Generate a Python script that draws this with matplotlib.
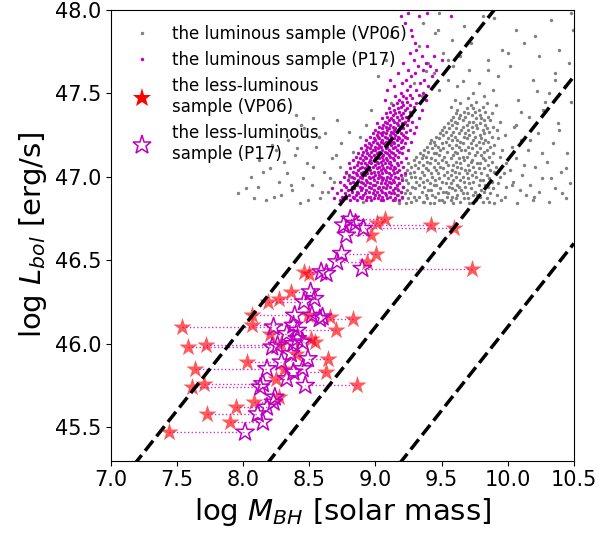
import matplotlib
matplotlib.use('Agg')
import matplotlib.pyplot as plt
from matplotlib.lines import Line2D

# luminous sample (VP06): rows of (log Lbol, [log MBH ...])
gray_rows = [
    (46.84, [8.43, 9.18, 9.23, 9.41, 9.44, 9.59, 9.71, 9.73, 9.90, 10.07]),
    (46.85, [8.91, 9.27, 9.36, 9.37, 9.52, 9.64, 9.81, 9.86, 10.31]),
    (46.86, [8.17, 9.15, 9.31, 9.48, 9.50, 9.57, 9.76, 9.95, 10.19]),
    (46.87, [8.58, 9.20, 9.25, 9.39, 9.61, 9.67, 9.70, 9.84, 10.44]),
    (46.88, [8.76, 9.29, 9.33, 9.45, 9.54, 9.58, 9.79, 9.98]),
    (46.89, [8.29, 9.17, 9.38, 9.43, 9.62, 9.74, 9.77, 9.92, 10.14]),
    (46.90, [7.96, 9.22, 9.26, 9.47, 9.55, 9.66, 9.69, 9.87]),
    (46.91, [8.64, 9.19, 9.35, 9.51, 9.53, 9.75, 9.82, 10.24]),
    (46.92, [8.37, 9.24, 9.40, 9.42, 9.60, 9.65, 9.80, 10.09]),
    (46.93, [8.84, 9.16, 9.30, 9.49, 9.58, 9.72, 9.89, 10.36]),
    (46.94, [8.11, 9.21, 9.28, 9.37, 9.56, 9.63, 9.68, 9.85, 9.99]),
    (46.95, [8.52, 9.33, 9.44, 9.46, 9.62, 9.78, 9.83, 10.17]),
    (46.96, [9.18, 9.25, 9.41, 9.53, 9.57, 9.71, 9.93, 10.47]),
    (46.97, [8.27, 8.69, 9.31, 9.36, 9.50, 9.67, 9.74, 9.88, 10.04]),
    (46.98, [9.23, 9.39, 9.45, 9.59, 9.64, 9.79, 9.81]),
    (46.99, [8.45, 9.20, 9.34, 9.48, 9.55, 9.70, 9.86, 10.26]),
    (47.00, [8.06, 8.80, 9.27, 9.30, 9.43, 9.61, 9.66, 9.76, 9.94]),
    (47.01, [9.22, 9.37, 9.52, 9.57, 9.73, 9.84, 10.11]),
    (47.02, [8.33, 9.26, 9.42, 9.47, 9.63, 9.69, 9.80, 9.97]),
    (47.03, [8.61, 9.29, 9.35, 9.54, 9.60, 9.75, 9.90, 10.40]),
    (47.04, [9.24, 9.40, 9.46, 9.58, 9.68, 9.71, 9.87, 10.02]),
    (47.05, [8.20, 9.32, 9.38, 9.51, 9.65, 9.78, 9.82]),
    (47.06, [8.73, 9.27, 9.44, 9.49, 9.62, 9.74, 9.91, 10.21]),
    (47.07, [9.30, 9.36, 9.55, 9.59, 9.70, 9.85]),
    (47.08, [8.48, 9.25, 9.41, 9.47, 9.64, 9.77, 9.79, 9.99]),
    (47.09, [9.33, 9.39, 9.53, 9.61, 9.72, 9.88, 10.30]),
    (47.10, [8.12, 9.29, 9.45, 9.50, 9.67, 9.73, 9.83]),
    (47.11, [8.67, 9.35, 9.42, 9.57, 9.63, 9.81, 10.06]),
    (47.12, [9.31, 9.38, 9.52, 9.66, 9.69, 9.86, 9.94]),
    (47.13, [8.39, 9.36, 9.48, 9.59, 9.75, 9.80]),
    (47.14, [9.34, 9.44, 9.46, 9.62, 9.71, 9.89, 10.45]),
    (47.15, [8.83, 9.40, 9.54, 9.60, 9.77, 9.82]),
    (47.16, [8.25, 9.37, 9.49, 9.65, 9.68, 9.84, 9.96, 10.15]),
    (47.17, [9.43, 9.51, 9.58, 9.73, 9.79]),
    (47.18, [8.55, 9.39, 9.47, 9.63, 9.70, 9.87, 10.03]),
    (47.19, [9.45, 9.56, 9.61, 9.76, 9.90]),
    (47.20, [8.74, 9.41, 9.50, 9.66, 9.72, 9.81, 10.34]),
    (47.21, [9.44, 9.53, 9.64, 9.78, 9.85]),
    (47.22, [8.34, 9.42, 9.58, 9.62, 9.74, 9.83, 10.10]),
    (47.23, [9.48, 9.55, 9.69, 9.80, 9.93]),
    (47.24, [8.88, 9.46, 9.60, 9.67, 9.75, 9.88]),
    (47.25, [9.51, 9.57, 9.71, 9.79, 9.98]),
    (47.26, [8.62, 9.49, 9.63, 9.68, 9.82, 10.23]),
    (47.27, [9.53, 9.59, 9.74, 9.86]),
    (47.28, [9.50, 9.65, 9.70, 9.81, 9.92]),
    (47.29, [8.46, 9.56, 9.61, 9.77, 9.84]),
    (47.30, [9.52, 9.66, 9.73, 9.89, 10.05]),
    (47.31, [8.93, 9.58, 9.69, 9.76, 9.83]),
    (47.32, [9.55, 9.62, 9.79, 10.38]),
    (47.33, [9.60, 9.71, 9.74, 9.94]),
    (47.34, [8.71, 9.57, 9.66, 9.82, 9.87]),
    (47.35, [9.63, 9.76, 9.80]),
    (47.36, [9.59, 9.68, 9.85, 10.16]),
    (47.37, [8.40, 9.64, 9.73, 9.79]),
    (47.38, [9.61, 9.70, 9.88]),
    (47.39, [9.67, 9.75, 9.83]),
    (47.40, [8.97, 9.62, 9.78, 10.27]),
    (47.41, [9.69, 9.74]),
    (47.42, [9.57, 9.81]),
    (47.43, [9.72, 9.91]),
    (47.44, [9.12, 9.64, 9.84]),
    (47.45, [9.76, 10.48]),
    (47.46, [9.60, 10.08]),
    (47.47, [9.70]),
    (47.48, [9.35, 9.82]),
    (47.50, [9.74, 10.31]),
    (47.52, [9.48, 9.89]),
    (47.54, [9.62, 10.43]),
    (47.56, [9.29, 9.78]),
    (47.58, [9.55, 10.19]),
    (47.60, [9.02, 9.93]),
    (47.62, [9.44, 10.36]),
    (47.64, [9.71]),
    (47.66, [9.59, 10.02]),
    (47.68, [9.40, 10.46]),
    (47.70, [9.08, 9.85]),
    (47.72, [9.64, 10.24]),
    (47.74, [9.51]),
    (47.76, [9.96, 10.39]),
    (47.78, [9.33]),
    (47.80, [9.72, 10.12]),
    (47.82, [9.58]),
    (47.84, [9.12, 10.21]),
    (47.86, [9.45]),
    (47.88, [10.06, 10.49]),
    (47.90, [9.67]),
    (47.92, [9.36]),
    (47.94, [10.33]),
    (47.96, [9.81]),
    (47.98, [9.48, 10.48]),
]

# extra scattered VP06 points around the main cloud
gray_extra_mbh = [8.02, 8.15, 8.23, 8.36, 8.41, 8.49, 8.53, 8.57, 8.66, 8.70,
                  8.78, 8.31, 8.08, 8.44, 8.60, 8.22, 8.80, 8.53,
                  10.03, 10.12, 10.20, 10.26, 10.33, 10.39, 10.44, 10.10, 10.28,
                  10.17, 10.36, 10.41, 10.06, 10.22,
                  9.38, 9.55, 9.66, 9.85, 9.47, 10.00, 9.90]
gray_extra_lbol = [46.93, 47.03, 46.88, 46.95, 47.17, 46.86, 47.06, 47.24, 46.99, 47.13,
                   47.02, 47.09, 46.87, 47.31, 46.91, 47.19, 47.27, 47.35,
                   46.95, 47.07, 46.88, 47.14, 46.99, 47.28, 47.05, 47.39, 47.45,
                   47.22, 47.58, 46.90, 47.31, 47.51,
                   47.63, 47.70, 47.57, 47.64, 47.88, 47.74, 47.95]

# luminous sample (P17)
magenta_rows = [
    (46.86, [8.73, 8.81, 8.86, 8.93, 8.97, 9.04, 9.06, 9.13, 9.18]),
    (46.87, [8.69, 8.78, 8.84, 8.90, 8.99, 9.02, 9.09, 9.15]),
    (46.88, [8.75, 8.83, 8.88, 8.94, 8.96, 9.05, 9.11, 9.20]),
    (46.89, [8.80, 8.85, 8.91, 9.00, 9.03, 9.08, 9.16]),
    (46.90, [8.71, 8.77, 8.87, 8.92, 8.98, 9.07, 9.12, 9.14]),
    (46.91, [8.82, 8.86, 8.95, 9.01, 9.05, 9.10, 9.19]),
    (46.92, [8.74, 8.79, 8.89, 8.93, 8.99, 9.04, 9.13, 9.17]),
    (46.93, [8.67, 8.84, 8.90, 8.97, 9.02, 9.08, 9.15]),
    (46.94, [8.78, 8.82, 8.88, 8.95, 9.03, 9.06, 9.11, 9.21]),
    (46.95, [8.76, 8.86, 8.92, 8.98, 9.00, 9.09, 9.16]),
    (46.96, [8.81, 8.85, 8.91, 8.96, 9.04, 9.07, 9.12, 9.18]),
    (46.97, [8.73, 8.83, 8.89, 8.94, 9.01, 9.10, 9.14]),
    (46.98, [8.79, 8.87, 8.93, 8.99, 9.05, 9.08, 9.13, 9.20]),
    (46.99, [8.84, 8.90, 8.96, 9.02, 9.06, 9.11, 9.17]),
    (47.00, [8.76, 8.82, 8.88, 8.95, 8.98, 9.04, 9.09, 9.15]),
    (47.01, [8.80, 8.86, 8.92, 9.00, 9.03, 9.12, 9.19]),
    (47.02, [8.85, 8.89, 8.94, 8.97, 9.05, 9.10, 9.14, 9.22]),
    (47.03, [8.78, 8.83, 8.91, 8.99, 9.02, 9.08, 9.16]),
    (47.04, [8.87, 8.93, 8.96, 9.04, 9.07, 9.13, 9.18]),
    (47.05, [8.81, 8.88, 8.92, 9.01, 9.06, 9.11, 9.15]),
    (47.06, [8.84, 8.90, 8.95, 8.98, 9.03, 9.09, 9.14, 9.21]),
    (47.07, [8.86, 8.94, 9.00, 9.05, 9.12, 9.17]),
    (47.08, [8.80, 8.89, 8.92, 8.97, 9.02, 9.07, 9.10, 9.16]),
    (47.09, [8.87, 8.95, 9.01, 9.04, 9.11, 9.19]),
    (47.10, [8.83, 8.91, 8.96, 8.99, 9.06, 9.09, 9.14]),
    (47.11, [8.88, 8.93, 9.00, 9.03, 9.08, 9.13, 9.23]),
    (47.12, [8.85, 8.92, 8.97, 9.02, 9.05, 9.11, 9.17]),
    (47.13, [8.90, 8.95, 8.99, 9.06, 9.10, 9.15]),
    (47.14, [8.87, 8.94, 9.01, 9.04, 9.09, 9.13, 9.20]),
    (47.15, [8.91, 8.97, 9.03, 9.07, 9.12, 9.18]),
    (47.16, [8.93, 8.98, 9.00, 9.05, 9.10, 9.16, 9.25]),
    (47.17, [8.89, 8.96, 9.02, 9.08, 9.13, 9.19]),
    (47.18, [8.94, 9.00, 9.04, 9.09, 9.15, 9.21]),
    (47.19, [8.92, 8.97, 9.03, 9.07, 9.12, 9.17]),
    (47.20, [8.95, 9.01, 9.06, 9.11, 9.14, 9.22]),
    (47.21, [8.98, 9.04, 9.08, 9.13, 9.19, 9.27]),
    (47.22, [8.93, 9.00, 9.05, 9.10, 9.16, 9.20]),
    (47.23, [8.99, 9.03, 9.09, 9.14, 9.18, 9.24]),
    (47.24, [8.96, 9.02, 9.07, 9.12, 9.17, 9.22]),
    (47.25, [9.01, 9.05, 9.11, 9.15, 9.21]),
    (47.26, [8.98, 9.04, 9.08, 9.13, 9.19, 9.29]),
    (47.27, [9.02, 9.06, 9.12, 9.16, 9.23]),
    (47.28, [9.00, 9.09, 9.14, 9.18, 9.26]),
    (47.29, [9.05, 9.10, 9.15, 9.21]),
    (47.30, [9.03, 9.08, 9.13, 9.19, 9.31]),
    (47.31, [9.06, 9.11, 9.17, 9.24]),
    (47.32, [9.01, 9.09, 9.16, 9.20]),
    (47.33, [9.07, 9.14, 9.22, 9.28]),
    (47.34, [9.10, 9.13, 9.18, 9.25]),
    (47.35, [9.05, 9.12, 9.20, 9.33]),
    (47.36, [9.09, 9.16, 9.23]),
    (47.37, [9.13, 9.19, 9.27]),
    (47.38, [9.08, 9.15, 9.21]),
    (47.39, [9.11, 9.18, 9.26]),
    (47.40, [9.14, 9.22, 9.35]),
    (47.41, [9.10, 9.17, 9.24]),
    (47.42, [9.19, 9.29]),
    (47.43, [9.13, 9.21, 9.26]),
    (47.44, [9.16, 9.31]),
    (47.45, [9.20, 9.24]),
    (47.46, [9.07, 9.18, 9.38]),
    (47.47, [9.23, 9.28]),
    (47.48, [9.15, 9.21]),
    (47.49, [9.26, 9.33]),
    (47.50, [9.19, 9.36]),
    (47.52, [9.09, 9.24, 9.31]),
    (47.54, [9.14, 9.26, 9.40]),
    (47.56, [9.20, 9.34]),
    (47.58, [9.11, 9.23, 9.37]),
    (47.60, [9.27, 9.43]),
    (47.62, [9.17, 9.30]),
    (47.64, [9.25, 9.36, 9.46]),
    (47.66, [9.32, 9.41]),
    (47.68, [9.21, 9.38]),
    (47.70, [9.29, 9.50]),
    (47.72, [9.35, 9.44]),
    (47.74, [9.26]),
    (47.76, [9.31]),
    (47.78, [9.39]),
    (47.80, [9.30]),
    (47.84, [9.28]),
    (47.88, [9.27]),
    (47.92, [9.22]),
    (47.96, [9.19, 9.33, 9.57]),
    (47.98, [9.25, 9.39]),
]

# less-luminous sample: same Lbol, two BH mass estimates
pair_lbol = [46.745, 46.71, 46.69, 46.72, 46.65, 46.54, 46.49, 46.45, 46.43, 46.42,
             46.31, 46.25, 46.27, 46.17, 46.11, 46.10, 46.15, 46.17, 46.16, 46.08,
             45.98, 45.99, 46.01, 46.00, 46.03, 45.89, 45.91, 45.85, 45.85, 45.83,
             45.76, 45.74, 45.75, 45.79, 45.68, 45.62, 45.65, 45.58, 45.53, 45.47,
             46.06, 45.94]
pair_m_vp06 = [9.07, 9.42, 9.595, 9.01, 8.965, 9.005, 8.935, 9.73, 8.46, 8.50,
               8.36, 8.19, 8.27, 8.07, 8.07, 7.54, 8.83, 8.49, 8.66, 8.70,
               7.58, 7.72, 8.545, 8.29, 8.51, 8.03, 8.64, 7.64, 8.31, 8.63,
               7.705, 7.61, 8.86, 8.25, 8.27, 7.95, 8.08, 7.725, 7.90, 7.44,
               8.20, 8.40]
pair_m_p17 = [8.81, 8.76, 8.91, 8.85, 8.78, 8.745, 8.71, 8.90, 8.59, 8.63,
              8.51, 8.46, 8.54, 8.39, 8.38, 8.23, 8.58, 8.52, 8.60, 8.41,
              8.22, 8.26, 8.45, 8.38, 8.41, 8.29, 8.49, 8.18, 8.45, 8.38,
              8.15, 8.13, 8.47, 8.33, 8.24, 8.18, 8.23, 8.11, 8.15, 8.015,
              8.33, 8.36]

# Eddington ratio lines: log L = log M + offset
edd_offsets = [38.1, 37.1, 36.1]
x_range = [7.0, 10.5]


def flatten(rows):
    m = [v for l, ms in rows for v in ms]
    l = [l for l, ms in rows for v in ms]
    return m, l


def plot_chart(save_path='out.png'):
    fig = plt.figure(figsize=(5.99, 5.35), dpi=100)
    ax = fig.add_axes([0.185, 0.139, 0.773, 0.843])

    gm, gl = flatten(gray_rows)
    mm, ml = flatten(magenta_rows)
    ax.scatter(gm + gray_extra_mbh, gl + gray_extra_lbol, s=6, c='gray', linewidths=0)
    ax.scatter(mm, ml, s=6, c='m', linewidths=0)

    for l, a, b in zip(pair_lbol, pair_m_vp06, pair_m_p17):
        ax.plot([a, b], [l, l], ':', color='m', lw=1, alpha=0.8)
    ax.scatter(pair_m_vp06, pair_lbol, marker='*', s=190, color='red', alpha=0.65, linewidths=0)
    ax.scatter(pair_m_p17, pair_lbol, marker='*', s=190, facecolors='none', edgecolors='m', linewidths=1.1)

    for off in edd_offsets:
        ax.plot(x_range, [x + off for x in x_range], '--', color='black', lw=2.5)

    ax.set_xlim(7.0, 10.5)
    ax.set_ylim(45.3, 48.0)
    ax.set_xticks([7.0, 7.5, 8.0, 8.5, 9.0, 9.5, 10.0, 10.5])
    ax.set_yticks([45.5, 46.0, 46.5, 47.0, 47.5, 48.0])
    ax.tick_params(labelsize=15)
    ax.set_xlabel('log $M_{BH}$ [solar mass]', fontsize=21)
    ax.set_ylabel('log $L_{bol}$ [erg/s]', fontsize=21)

    handles = [
        Line2D([], [], ls='', marker='o', ms=2.5, color='gray', mew=0),
        Line2D([], [], ls='', marker='o', ms=2.5, color='m', mew=0),
        Line2D([], [], ls='', marker='*', ms=14, color='red', mew=0),
        Line2D([], [], ls='', marker='*', ms=14, mfc='none', mec='m', mew=1.1),
    ]
    labels = ['the luminous sample (VP06)', 'the luminous sample (P17)',
              'the less-luminous\nsample (VP06)', 'the less-luminous\nsample (P17)']
    ax.legend(handles, labels, loc='upper left', frameon=False, fontsize=12)

    fig.savefig(save_path, dpi=100)
    plt.close(fig)


if __name__ == '__main__':
    plot_chart()
